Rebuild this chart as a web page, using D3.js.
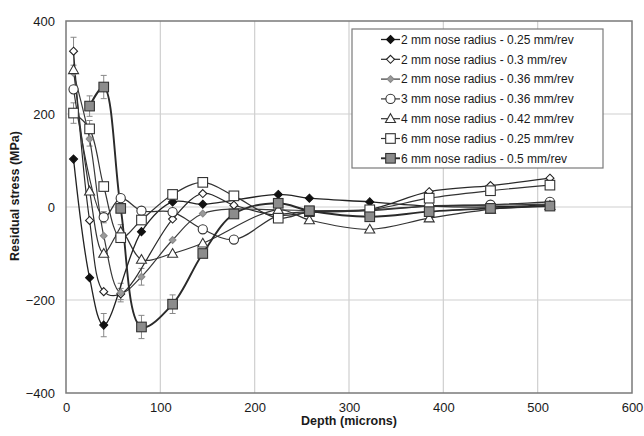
<!DOCTYPE html>
<html><head><meta charset="utf-8">
<script src="https://cdn.jsdelivr.net/npm/d3@7"></script>
<style>body{margin:0;background:#fff}svg{display:block;font-family:"Liberation Sans",Arial,sans-serif}</style>
</head><body><svg id="c" width="644" height="436"></svg>
<script>
// ---- data ----
const seriesNames = [
  "2 mm nose radius - 0.25 mm/rev",
  "2 mm nose radius - 0.3 mm/rev",
  "2 mm nose radius - 0.36 mm/rev",
  "3 mm nose radius - 0.36 mm/rev",
  "4 mm nose radius - 0.42 mm/rev",
  "6 mm nose radius - 0.25 mm/rev",
  "6 mm nose radius - 0.5 mm/rev"
];
const depthS1 = [8, 25, 40, 80, 113, 145, 225, 258, 322, 385, 450, 513];
const stressS1 = [103, -152, -254, -53, 11, 6, 27, 19, 11, 2, 0, 5];
const depthS2 = [8, 25, 40, 58, 113, 145, 178, 225, 258, 322, 385, 450, 513];
const stressS2 = [335, -29, -182, -187, -26, 29, 4, -18, -12, -5, 33, 46, 62];
const depthS3 = [8, 25, 40, 58, 80, 113, 145, 225, 258, 322, 385, 450, 513];
const stressS3 = [288, 146, -62, -184, -150, -71, -14, -6, -8, -6, 2, 4, 6];
const depthS4 = [8, 40, 58, 80, 113, 145, 178, 225, 258, 322, 385, 450, 513];
const stressS4 = [253, -22, 19, -8, -11, -48, -70, -18, -10, -8, 2, 5, 11];
const depthS5 = [8, 25, 40, 58, 80, 113, 145, 225, 258, 322, 385, 450, 513];
const stressS5 = [295, 34, -100, -53, -113, -100, -78, -6, -28, -48, -24, -5, 3];
const depthS6 = [8, 25, 40, 58, 80, 113, 145, 178, 225, 258, 322, 385, 450, 513];
const stressS6 = [202, 168, 44, -66, -28, 27, 53, 24, -24, -10, -6, 19, 35, 47];
const depthS7 = [25, 40, 58, 80, 113, 145, 178, 225, 258, 322, 385, 450, 513];
const stressS7 = [217, 258, -3, -258, -209, -100, -15, 8, -8, -21, -10, -3, 2];
// error bars: [series index, depth, half-range]
const errorBars = [
  [1, 8, 30], [5, 8, 22], [6, 25, 22], [6, 40, 25], [5, 25, 18], [2, 25, 15],
  [0, 40, 25], [6, 80, 25], [6, 113, 20], [2, 80, 18], [2, 58, 20], [3, 40, 12],
  [4, 58, 15], [1, 58, 12]
];
const xTicks = [0, 100, 200, 300, 400, 500, 600];
const yTicks = [-400, -200, 0, 200, 400];

const depths = [depthS1, depthS2, depthS3, depthS4, depthS5, depthS6, depthS7];
const stresses = [stressS1, stressS2, stressS3, stressS4, stressS5, stressS6, stressS7];

// ---- layout ----
const L = 66, R = 632, T = 21, B = 393;
const x = d3.scaleLinear().domain([0, 600]).range([L, R]);
const y = d3.scaleLinear().domain([-400, 400]).range([B, T]);
const svg = d3.select("#c");
const FONT = "Liberation Sans, Arial, sans-serif";

// grid
svg.append("g").selectAll("line").data(xTicks.slice(1, -1)).join("line")
  .attr("x1", d => x(d)).attr("x2", d => x(d)).attr("y1", T).attr("y2", B)
  .attr("stroke", "#cfcfcf").attr("stroke-width", 1.2);
svg.append("g").selectAll("line").data(yTicks.slice(1, -1)).join("line")
  .attr("y1", d => y(d)).attr("y2", d => y(d)).attr("x1", L).attr("x2", R)
  .attr("stroke", "#cfcfcf").attr("stroke-width", 1.2);

// axes (labels only, border drawn separately)
const xAxis = d3.axisBottom(x).tickValues(xTicks).tickSize(0).tickPadding(10);
const gx = svg.append("g").attr("transform", `translate(0,${B})`).call(xAxis);
gx.select(".domain").remove();
gx.selectAll("text").attr("font-size", 13).attr("fill", "#1a1a1a").attr("font-family", FONT);
const yAxis = d3.axisLeft(y).tickValues(yTicks).tickSize(0).tickPadding(11);
const gy = svg.append("g").attr("transform", `translate(${L},0)`).call(yAxis);
gy.select(".domain").remove();
gy.selectAll("text").attr("font-size", 13).attr("fill", "#1a1a1a").attr("font-family", FONT);

svg.append("rect").attr("x", L).attr("y", T).attr("width", R - L).attr("height", B - T)
  .attr("fill", "none").attr("stroke", "#7a7a7a").attr("stroke-width", 1.5);

svg.append("text").attr("x", (L + R) / 2).attr("y", 425).attr("text-anchor", "middle")
  .attr("font-size", 12.5).attr("font-weight", "bold").attr("fill", "#1a1a1a").text("Depth (microns)");
svg.append("text").attr("transform", "translate(19,196) rotate(-90)").attr("text-anchor", "middle")
  .attr("font-size", 12.5).attr("font-weight", "bold").attr("fill", "#1a1a1a").text("Residual stress (MPa)");

// marker styles
const styles = [
  {type: "diamond", size: 4, fill: "#111", stroke: "#111", line: "#222", lw: 1.3},
  {type: "diamond", size: 4, fill: "#fff", stroke: "#222", line: "#2a2a2a", lw: 1.2},
  {type: "diamond", size: 3.4, fill: "#9a9a9a", stroke: "#8a8a8a", line: "#3a3a3a", lw: 1.2},
  {type: "circle", size: 4.6, fill: "#fff", stroke: "#333", line: "#333", lw: 1.2},
  {type: "triangle", size: 5, fill: "#fff", stroke: "#333", line: "#333", lw: 1.2},
  {type: "square", size: 4.8, fill: "#fff", stroke: "#333", line: "#333", lw: 1.2},
  {type: "square", size: 4.8, fill: "#8c8c8c", stroke: "#333", line: "#2a2a2a", lw: 1.9}
];
function drawMarker(g, st, cx, cy) {
  const s = st.size;
  let el;
  if (st.type === "diamond") el = g.append("path").attr("d", `M${cx},${cy - s}L${cx + s},${cy}L${cx},${cy + s}L${cx - s},${cy}Z`);
  else if (st.type === "circle") el = g.append("circle").attr("cx", cx).attr("cy", cy).attr("r", s);
  else if (st.type === "triangle") el = g.append("path").attr("d", `M${cx},${cy - s}L${cx + s},${cy + s * 0.75}L${cx - s},${cy + s * 0.75}Z`);
  else el = g.append("rect").attr("x", cx - s).attr("y", cy - s).attr("width", 2 * s).attr("height", 2 * s);
  el.attr("fill", st.fill).attr("stroke", st.stroke).attr("stroke-width", 1.1);
}

svg.append("clipPath").attr("id", "pc").append("rect").attr("x", L).attr("y", T).attr("width", R - L).attr("height", B - T);
const plot = svg.append("g").attr("clip-path", "url(#pc)");

// error bars
const eg = plot.append("g");
errorBars.forEach(([si, d, e]) => {
  const i = depths[si].indexOf(d);
  if (i < 0) return;
  const v = stresses[si][i], cx = x(d);
  eg.append("line").attr("x1", cx).attr("x2", cx).attr("y1", y(v - e)).attr("y2", y(v + e)).attr("stroke", "#888").attr("stroke-width", 1);
  [v - e, v + e].forEach(w => eg.append("line").attr("x1", cx - 3).attr("x2", cx + 3).attr("y1", y(w)).attr("y2", y(w)).attr("stroke", "#888").attr("stroke-width", 1));
});

const line = d3.line().x(d => x(d[0])).y(d => y(d[1])).curve(d3.curveCatmullRom.alpha(0.5));
depths.forEach((ds, si) => {
  const pts = ds.map((d, i) => [d, stresses[si][i]]);
  plot.append("path").attr("d", line(pts)).attr("fill", "none").attr("stroke", styles[si].line).attr("stroke-width", styles[si].lw);
});
depths.forEach((ds, si) => {
  const g = plot.append("g");
  ds.forEach((d, i) => drawMarker(g, styles[si], x(d), y(stresses[si][i])));
});

// legend
const lg = svg.append("g");
lg.append("rect").attr("x", 352).attr("y", 29).attr("width", 251).attr("height", 139)
  .attr("fill", "#fff").attr("stroke", "#7a7a7a").attr("stroke-width", 1.2);
seriesNames.forEach((n, i) => {
  const cy = 39.5 + i * 19.8;
  lg.append("line").attr("x1", 381).attr("x2", 400).attr("y1", cy).attr("y2", cy).attr("stroke", styles[i].line).attr("stroke-width", styles[i].lw);
  drawMarker(lg, styles[i], 390.5, cy);
  lg.append("text").attr("x", 401).attr("y", cy + 4.3).attr("font-size", 12).attr("fill", "#1a1a1a").text(n);
});
</script></body></html>
